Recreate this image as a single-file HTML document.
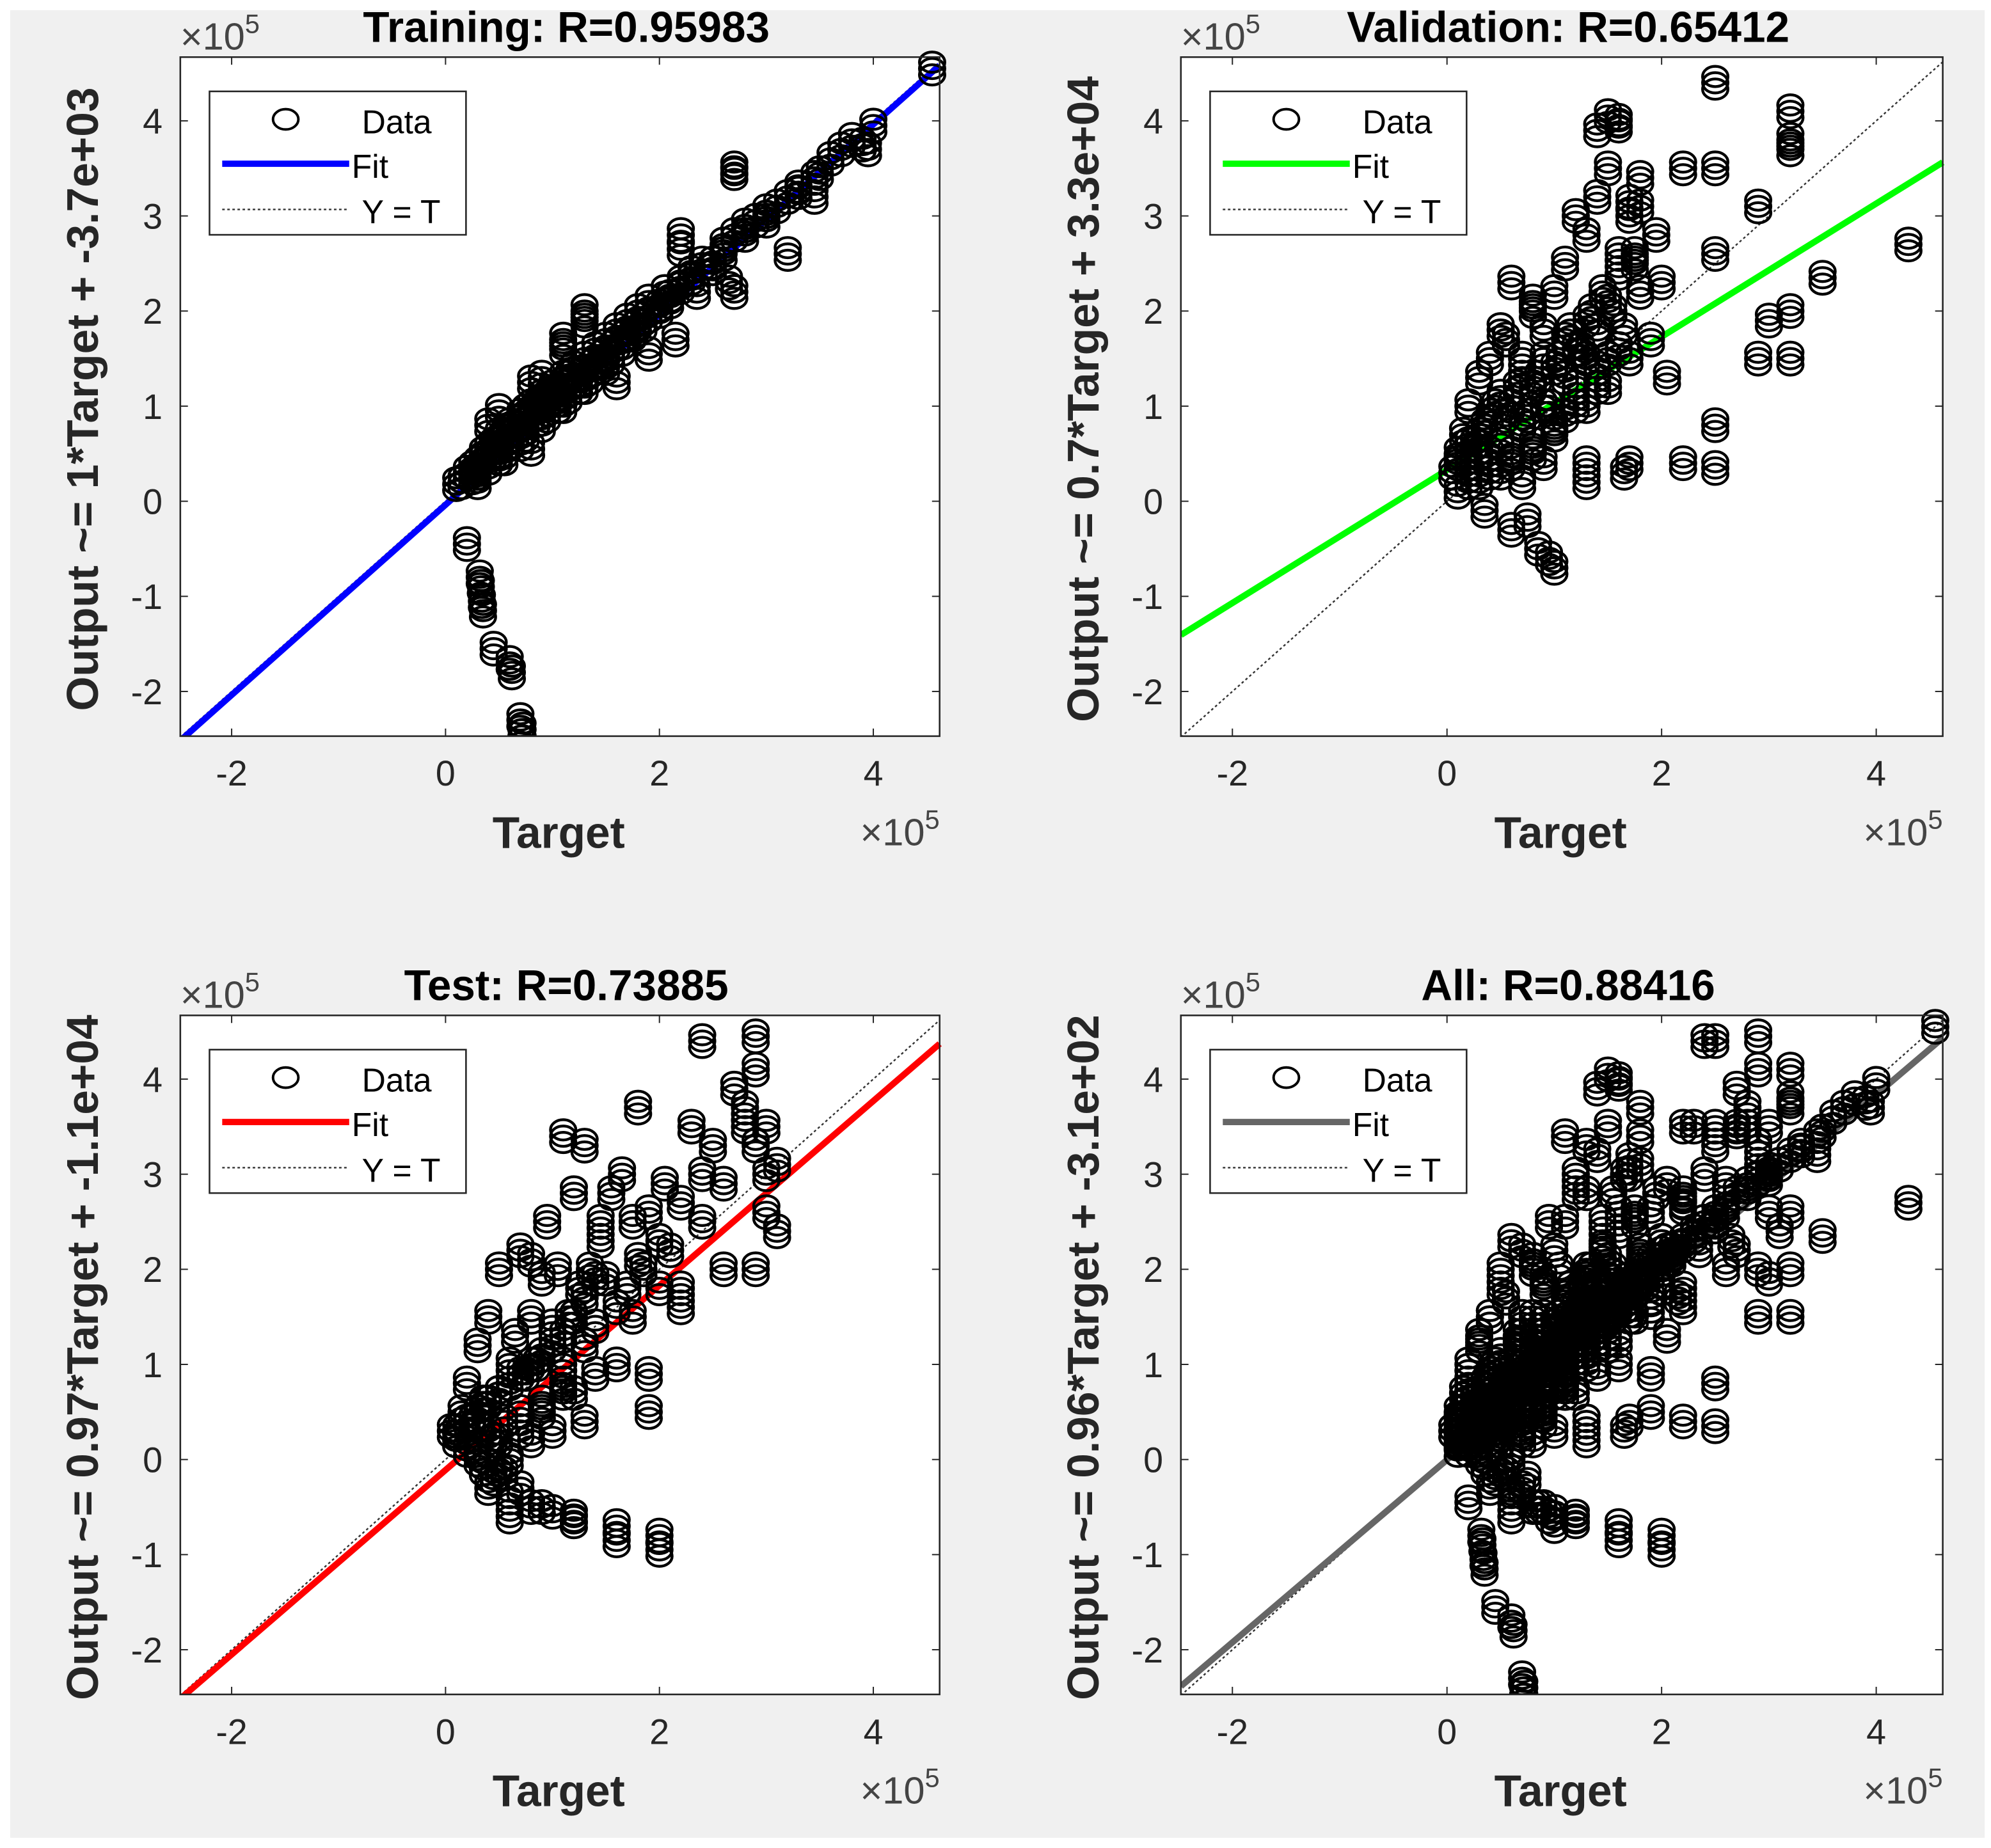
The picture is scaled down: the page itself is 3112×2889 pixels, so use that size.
<!DOCTYPE html>
<html><head><meta charset="utf-8"><style>
html,body{margin:0;padding:0;background:#fff;}
svg{display:block;}
text{font-family:"Liberation Sans",Arial,sans-serif;}
</style></head><body>
<svg id="fig" width="3112" height="2889" viewBox="0 0 1568 1456" preserveAspectRatio="none" xmlns="http://www.w3.org/2000/svg">
<rect x="0" y="0" width="1568" height="1456" fill="#ffffff"/>
<rect x="8" y="8" width="1555" height="1440" fill="#f0f0f0"/>
</svg>
<script>
// ---- data (units of 1e5) ----
const trainT = [0.1,0.15,0.2,0.25,0.3,0.35,0.4,0.45,0.5,0.5,0.6,0.6,0.7,0.75,0.8,0.85,0.9,0.95,1.0,1.05,1.1,1.15,1.2,1.25,1.3,1.35,1.4,1.45,1.5,1.55,1.6,1.65,1.7,1.75,1.8,1.85,1.9,2.0,2.05,2.1,2.2,2.3,2.35,2.4,2.5,2.6,2.7,2.8,2.9,3.0,3.1,3.2,3.3,3.45,3.6,3.7,3.8,3.9,4.0,4.55,0.2,0.32,0.33,0.34,0.35,0.45,0.6,0.62,0.7,0.72,0.71,2.7,2.7,3.2,2.7,2.65,2.2,2.2,1.3,1.3,1.1,1.1,0.8,2.15,0.8,0.5,0.9,1.2,1.6,1.9,0.4,0.55,3.45,3.95,
 0.25,0.3,0.35,0.4,0.45,0.5,0.55,0.6,0.65,0.7,0.75,0.8,0.85,0.9,0.95,1.0,1.05,1.1,1.15,1.2,1.3,1.4,1.5,1.6,1.7,1.8,1.9,2.0,2.1,2.2,2.3,2.5,2.6,2.8,3.0,3.3,3.5,0.3,0.5,0.7,0.9,1.1,1.3,1.5];
const trainO = [0.18,0.2,0.3,0.25,0.4,0.5,0.35,0.6,0.7,0.45,0.8,0.6,0.9,0.7,1.0,0.85,1.1,0.9,1.2,1.0,1.3,1.1,1.4,1.2,1.5,1.3,1.6,1.45,1.7,1.5,1.8,1.6,1.9,1.75,2.0,1.85,2.1,2.0,2.2,2.1,2.3,2.4,2.2,2.5,2.5,2.7,2.8,2.9,2.95,3.05,3.1,3.2,3.3,3.4,3.6,3.7,3.8,3.75,3.95,4.55,-0.45,-0.8,-0.9,-1.05,-1.15,-1.55,-1.7,-1.8,-2.3,-2.4,-2.47,3.5,3.45,2.6,2.2,2.3,2.8,2.65,2.0,1.9,1.7,1.6,1.25,1.7,0.55,0.95,1.3,1.25,1.25,1.55,0.8,0.45,3.2,3.7,
 0.35,0.3,0.45,0.55,0.5,0.6,0.7,0.75,0.7,0.8,0.95,0.9,1.0,1.05,1.1,1.15,1.1,1.2,1.3,1.25,1.35,1.45,1.55,1.65,1.75,1.85,1.95,2.05,2.15,2.25,2.35,2.45,2.6,2.8,2.95,3.25,3.45,0.2,0.5,0.6,0.8,1.0,1.2,1.4];
const valT = [0.05,0.1,0.1,0.15,0.2,0.2,0.25,0.3,0.3,0.35,0.4,0.4,0.45,0.5,0.5,0.55,0.6,0.6,0.65,0.7,0.7,0.75,0.8,0.8,0.85,0.9,0.9,0.95,1.0,1.0,1.05,1.1,1.1,1.15,1.2,1.2,1.25,1.3,1.3,1.35,1.4,1.4,1.45,1.5,1.5,1.55,1.6,1.6,1.65,1.7,1.7,1.75,1.8,1.8,1.9,1.95,2.0,0.35,0.6,0.75,0.85,0.95,1.0,1.3,1.7,2.2,2.5,2.5,2.5,2.2,2.5,2.5,2.9,3.2,3.2,3.2,3.5,4.3,3.0,3.2,3.2,2.9,1.3,1.65,1.4,1.5,1.6,1.7,1.8,0.55,0.8,2.05,
 0.1,0.2,0.3,0.4,0.5,0.6,0.7,0.8,0.9,1.0,1.1,1.2,1.3,1.4,1.5,0.3,0.5,0.7,0.9,1.1,1.3,1.5,0.2,0.4,0.6,0.8,1.0,1.2,1.4,1.6,1.8,1.6,1.75];
const valO = [0.3,0.5,0.1,0.7,0.4,1.0,0.6,0.2,1.3,0.8,0.5,1.5,1.0,0.3,1.8,0.9,0.5,2.3,1.2,0.2,1.5,0.9,0.6,2.0,1.3,0.4,1.8,1.0,0.7,2.2,1.5,0.9,2.5,1.8,1.2,3.0,1.6,1.0,2.8,2.0,1.4,3.2,2.2,1.5,3.5,2.0,2.6,4.0,1.8,3.0,1.5,2.5,3.1,2.2,1.7,2.8,2.3,-0.1,-0.3,-0.2,-0.5,-0.6,-0.7,0.4,0.4,0.4,0.35,0.8,4.4,3.5,3.5,2.6,3.1,4.1,3.8,3.7,2.35,2.7,1.9,2.0,1.5,1.5,0.2,0.3,3.9,4.05,3.95,3.15,3.4,1.7,2.1,1.3,
 0.4,0.6,0.7,0.9,1.1,1.0,1.3,1.2,1.5,1.4,1.7,1.6,1.9,1.8,2.1,0.5,0.6,0.8,1.0,1.3,1.5,1.2,0.2,0.3,0.4,0.5,0.8,1.0,1.2,1.6,2.2,2.4,2.6];
const testT = [0.05,0.1,0.15,0.2,0.2,0.25,0.3,0.3,0.35,0.4,0.4,0.45,0.5,0.5,0.55,0.6,0.6,0.65,0.7,0.7,0.75,0.8,0.8,0.85,0.9,0.9,0.95,1.0,1.0,1.05,1.1,1.1,1.15,1.2,1.2,1.25,1.3,1.3,1.35,1.4,1.45,1.5,1.55,1.6,1.65,1.7,1.75,1.8,1.85,1.9,2.0,2.05,2.1,2.2,2.3,2.4,2.4,2.5,2.6,2.7,2.8,2.9,2.9,3.0,3.1,3.1,2.9,2.4,1.6,1.6,2.0,2.0,1.2,0.9,0.7,0.35,0.45,1.0,1.1,1.3,1.75,1.9,1.9,2.2,2.6,3.0,0.55,0.8,1.45,
 0.1,0.2,0.3,0.4,0.5,0.6,0.7,0.8,0.9,1.0,1.1,1.2,1.3,1.4,0.3,0.5,0.7,0.9,1.1,0.4,0.6,0.8,1.0,1.2,1.4,1.6,1.8,2.0,2.2,2.8,2.9,3.0,0.5,0.6];
const testO = [0.3,0.2,0.5,0.1,0.8,0.4,0.0,1.2,0.6,0.3,1.5,0.2,0.7,2.0,0.4,1.0,0.0,1.3,0.5,2.2,0.9,1.5,0.2,1.0,1.9,0.6,2.5,1.2,0.3,2.0,1.0,3.4,1.5,0.7,2.8,1.8,1.2,3.3,2.0,1.4,2.5,1.9,2.8,1.0,3.0,1.8,2.5,3.7,2.0,2.6,1.8,2.9,2.2,2.7,3.5,3.0,2.5,3.3,2.9,3.9,3.5,4.45,4.1,3.5,3.1,2.4,2.0,4.4,-0.7,-0.85,-0.8,-0.95,-0.6,-0.5,-0.3,-0.1,-0.2,1.4,0.7,0.4,1.5,0.5,0.9,1.8,2.0,2.6,-0.15,2.1,2.3,
 0.3,0.4,0.5,0.6,0.7,0.8,0.9,1.0,1.1,1.2,1.3,1.5,1.7,1.9,0.1,0.2,0.3,0.5,0.8,-0.3,-0.4,-0.5,-0.55,-0.65,0.9,1.6,2.1,2.3,1.6,3.7,3.3,3.0,-0.1,-0.6];
const fitSlope = [1.0, 0.7, 0.97, 0.96];
const fitIntercept = [-0.037, 0.33, -0.11, -0.0031];
const panelTitles = ["Training: R=0.95983","Validation: R=0.65412","Test: R=0.73885","All: R=0.88416"];
const yLabels = ["Output ~= 1*Target + -3.7e+03","Output ~= 0.7*Target + 3.3e+04","Output ~= 0.97*Target + -1.1e+04","Output ~= 0.96*Target + -3.1e+02"];
const fitColors = ["#0000ff","#00ff00","#ff0000","#666666"];
const xTicks = [-2,0,2,4];
const yTicks = [-2,-1,0,1,2,3,4];

const NS="http://www.w3.org/2000/svg";
const svg=document.getElementById('fig');
function mk(tag,attrs,parent){const e=document.createElementNS(NS,tag);for(const k in attrs)e.setAttribute(k,attrs[k]);(parent||svg).appendChild(e);return e;}

const boxes=[[142,740,45,580],[930,1530,45,580],[142,740,800,1335],[930,1530,800,1335]];
const XMIN=-2.48,XMAX=4.62,YMIN=-2.47,YMAX=4.67;
const allT=trainT.concat(valT,testT), allO=trainO.concat(valO,testO);
const sets=[[trainT,trainO],[valT,valO],[testT,testO],[allT,allO]];
const names=["training","validation","test","all"];
const stack=[-5,0,5];

boxes.forEach((b,i)=>{
  const [L,R,T,B]=b;
  const sx=v=>L+(v-XMIN)/(XMAX-XMIN)*(R-L);
  const sy=v=>B-(v-YMIN)/(YMAX-YMIN)*(B-T);
  const g=mk('g',{});
  
  
  const clipId='clip'+i;
  const cp=mk('clipPath',{id:clipId},g);mk('rect',{x:L,y:T-12,width:R-L+12,height:B-T+12},cp);
  const bg=mk('rect',{x:L,y:T,width:R-L,height:B-T,fill:'#fff'},g);
  
  
  const pg=mk('g',{'clip-path':'url(#'+clipId+')'},g);
  const yt=mk('line',{x1:sx(XMIN),y1:sy(XMIN),x2:sx(XMAX),y2:sy(XMAX),stroke:'#333',"stroke-width":1.2,"stroke-dasharray":"2,2"},pg);
  
  
  const fl=mk('line',{x1:sx(XMIN),y1:sy(fitSlope[i]*XMIN+fitIntercept[i]),x2:sx(XMAX),y2:sy(fitSlope[i]*XMAX+fitIntercept[i]),stroke:fitColors[i],"stroke-width":5},pg);
  
  
  const [ts,os]=sets[i];
  for(let k=0;k<ts.length;k++){
    const pt=mk('g',{},pg);
    
    
    stack.forEach(d=>{mk('ellipse',{cx:sx(ts[k]),cy:sy(os[k])+d,rx:10,ry:8,fill:'none',stroke:'#000',"stroke-width":2.2},pt);});
  }
  mk('rect',{x:L,y:T,width:R-L,height:B-T,fill:'none',stroke:'#262626',"stroke-width":1.3},g);
  xTicks.forEach(v=>{const x=sx(v);
    mk('line',{x1:x,y1:B,x2:x,y2:B-6,stroke:'#262626'},g);mk('line',{x1:x,y1:T,x2:x,y2:T+6,stroke:'#262626'},g);
    const t=mk('text',{x:x,y:B+39,"text-anchor":"middle","font-size":28,fill:'#262626'},g);t.textContent=v;
    
    });
  yTicks.forEach(v=>{const y=sy(v);
    mk('line',{x1:L,y1:y,x2:L+6,y2:y,stroke:'#262626'},g);mk('line',{x1:R,y1:y,x2:R-6,y2:y,stroke:'#262626'},g);
    const t=mk('text',{x:L-14,y:y+10,"text-anchor":"end","font-size":28,fill:'#262626'},g);t.textContent=v;
    
    });
  const e1=mk('text',{x:L,y:T-6,"font-size":30,fill:'#444'},g);e1.innerHTML='×10<tspan dy="-13" font-size="21">5</tspan>';
  
  
  const e2=mk('text',{x:R,y:B+86,"font-size":30,fill:'#444',"text-anchor":"end"},g);e2.innerHTML='×10<tspan dy="-13" font-size="21">5</tspan>';
  
  
  const tt=mk('text',{x:(L+R)/2+5,y:T-12,"text-anchor":"middle","font-size":34,"font-weight":"bold",fill:'#000'},g);tt.textContent=panelTitles[i];
  
  
  const xl=mk('text',{x:(L+R)/2-1,y:B+88,"text-anchor":"middle","font-size":35,"font-weight":"bold",fill:'#262626'},g);xl.textContent='Target';
  
  
  const cy=(T+B)/2+2;
  const yl=mk('text',{x:0,y:0,"text-anchor":"middle","font-size":35,"font-weight":"bold",fill:'#262626',transform:'translate('+(L-65)+','+cy+') rotate(-90)'},g);yl.textContent=yLabels[i];
  
  
  const lg=mk('g',{},g);
  
  
  const lx=L+23, ly=T+27;
  mk('rect',{x:lx,y:ly,width:202,height:113,fill:'#fff',stroke:'#262626',"stroke-width":1.3},lg);
  mk('ellipse',{cx:lx+60,cy:ly+22,rx:10,ry:8,fill:'none',stroke:'#000',"stroke-width":2},lg);
  let t1=mk('text',{x:lx+120,y:ly+33,"font-size":26,fill:'#000'},lg);t1.textContent='Data';
  mk('line',{x1:lx+10,y1:ly+57,x2:lx+110,y2:ly+57,stroke:fitColors[i],"stroke-width":5},lg);
  let t2=mk('text',{x:lx+112,y:ly+68,"font-size":26,fill:'#000'},lg);t2.textContent='Fit';
  mk('line',{x1:lx+10,y1:ly+93,x2:lx+110,y2:ly+93,stroke:'#333',"stroke-width":1.2,"stroke-dasharray":"2,2"},lg);
  let t3=mk('text',{x:lx+120,y:ly+104,"font-size":26,fill:'#000'},lg);t3.textContent='Y = T';
});
</script>
</body></html>
